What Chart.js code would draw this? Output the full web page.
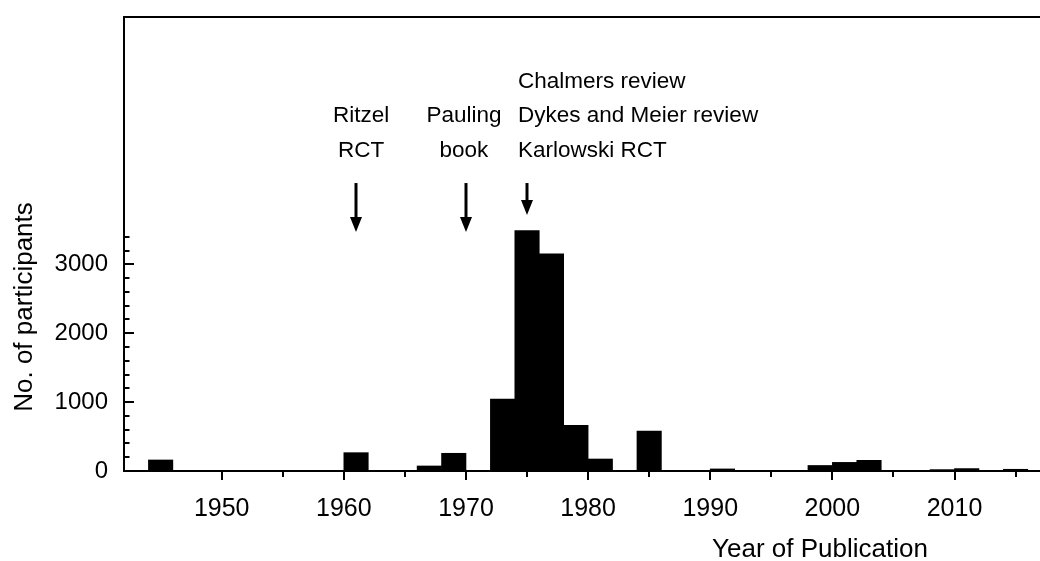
<!DOCTYPE html>
<html><head><meta charset="utf-8">
<script src="https://cdn.jsdelivr.net/npm/chart.js@4/dist/chart.umd.min.js"></script>
<style>html,body{margin:0;padding:0;background:#fff;overflow:hidden}#wrap{width:1040px;height:561px}</style>
</head><body><div id="wrap"><canvas id="c" width="1040" height="561"></canvas></div>
<script>
// ---- data ----
const binStarts = [1944,1960,1966,1968,1972,1974,1976,1978,1980,1984,1990,1998,2000,2002,2008,2010,2014];
const participants = [160,266,73,257,1045,3488,3154,663,174,580,30,80,125,155,20,35,25];
const binWidth = 2;
const xMajorTicks = [1950,1960,1970,1980,1990,2000,2010];
const xMinorTicks = [1955,1965,1975,1985,1995,2005,2015];
const yMajorTicks = [0,1000,2000,3000];
const yMinorTicks = [200,400,600,800,1200,1400,1600,1800,2200,2400,2600,2800,3200,3400];
const eventYears = [1961,1970,1975];
const eventLabels = [["Ritzel","RCT"],["Pauling","book"],["Chalmers review","Dykes and Meier review","Karlowski RCT"]];
const arrowStartValue = 4180;
const arrowTipValues = [3470,3470,3715];
const xTitle = "Year of Publication";
const yTitle = "No. of participants";

const FONT = "'Liberation Sans', Arial, Helvetica, sans-serif";

const decor = {
  id: 'decor',
  afterDraw(chart) {
    const ctx = chart.ctx;
    const {left, right, top, bottom} = chart.chartArea;
    const xs = chart.scales.x, ys = chart.scales.y;
    ctx.save();
    ctx.strokeStyle = '#000';
    ctx.fillStyle = '#000';
    ctx.lineWidth = 2;
    // top frame line
    ctx.beginPath(); ctx.moveTo(left - 1, top); ctx.lineTo(right, top); ctx.stroke();
    // y ticks (inward)
    ctx.beginPath();
    yMajorTicks.forEach(v => { const p = Math.round(ys.getPixelForValue(v)); ctx.moveTo(left, p); ctx.lineTo(left + 10, p); });
    yMinorTicks.forEach(v => { const p = Math.round(ys.getPixelForValue(v)); ctx.moveTo(left, p); ctx.lineTo(left + 5.5, p); });
    ctx.stroke();
    // x ticks (outward)
    ctx.beginPath();
    xMajorTicks.forEach(v => { const p = Math.round(xs.getPixelForValue(v)); ctx.moveTo(p, bottom); ctx.lineTo(p, bottom + 9); });
    xMinorTicks.forEach(v => { const p = Math.round(xs.getPixelForValue(v)); ctx.moveTo(p, bottom); ctx.lineTo(p, bottom + 6); });
    ctx.stroke();
    // arrows
    eventYears.forEach((yr, i) => {
      const px = Math.round(xs.getPixelForValue(yr));
      const y0 = ys.getPixelForValue(arrowStartValue);
      const y1 = ys.getPixelForValue(arrowTipValues[i]);
      ctx.lineWidth = 3;
      ctx.beginPath(); ctx.moveTo(px, y0); ctx.lineTo(px, y1 - 12); ctx.stroke();
      ctx.beginPath(); ctx.moveTo(px - 6, y1 - 15); ctx.lineTo(px + 6, y1 - 15); ctx.lineTo(px, y1); ctx.closePath(); ctx.fill();
    });
    // event labels
    ctx.font = "22.5px " + FONT;
    ctx.textBaseline = 'alphabetic';
    const baselines3 = [87.5, 122, 156.5];
    const p0 = xs.getPixelForValue(eventYears[0]);
    const p1 = xs.getPixelForValue(eventYears[1]);
    const p2 = xs.getPixelForValue(eventYears[2]);
    ctx.textAlign = 'center';
    eventLabels[0].forEach((t, k) => ctx.fillText(t, p0 + 5, baselines3[k + 1]));
    eventLabels[1].forEach((t, k) => ctx.fillText(t, p1 - 2, baselines3[k + 1]));
    ctx.textAlign = 'left';
    eventLabels[2].forEach((t, k) => ctx.fillText(t, p2 - 9, baselines3[k]));
    // axis titles
    ctx.font = "26px " + FONT;
    ctx.textAlign = 'left';
    ctx.fillText(xTitle, 712, 557);
    ctx.save();
    ctx.translate(32, 307);
    ctx.rotate(-Math.PI / 2);
    ctx.textAlign = 'center';
    ctx.fillText(yTitle, 0, 0);
    ctx.restore();
    ctx.restore();
  }
};

new Chart(document.getElementById('c'), {
  type: 'bar',
  data: {
    datasets: [{
      data: binStarts.map((s, i) => ({x: s + binWidth / 2, y: participants[i]})),
      backgroundColor: '#000',
      borderWidth: 0,
      barPercentage: 1,
      categoryPercentage: 1
    }]
  },
  options: {
    responsive: false,
    animation: false,
    devicePixelRatio: 1,
    layout: {padding: {top: 17, left: 0, right: 0, bottom: 0}},
    plugins: {legend: {display: false}, tooltip: {enabled: false}},
    scales: {
      x: {
        type: 'linear', min: 1942, max: 2017, offset: false,
        afterBuildTicks: s => { s.ticks = xMajorTicks.map(v => ({value: v})); },
        afterFit: s => { s.height = 90; },
        grid: {display: true, offset: false, drawOnChartArea: false, drawTicks: true, tickLength: 21, tickColor: 'rgba(0,0,0,0)'},
        border: {display: true, color: '#000', width: 2},
        ticks: {color: '#000', font: {family: FONT, size: 25}, padding: 2, maxRotation: 0, autoSkip: false, callback: v => String(v)}
      },
      y: {
        type: 'linear', min: 0, max: 6590,
        afterBuildTicks: s => { s.ticks = yMajorTicks.map(v => ({value: v})); },
        afterFit: s => { s.width = 124; },
        grid: {display: true, drawOnChartArea: false, drawTicks: true, tickLength: 14, tickColor: 'rgba(0,0,0,0)'},
        border: {display: true, color: '#000', width: 2},
        ticks: {color: '#000', font: {family: FONT, size: 24}, padding: 2, callback: v => String(v)}
      }
    }
  },
  plugins: [decor]
});
</script>
</body></html>
